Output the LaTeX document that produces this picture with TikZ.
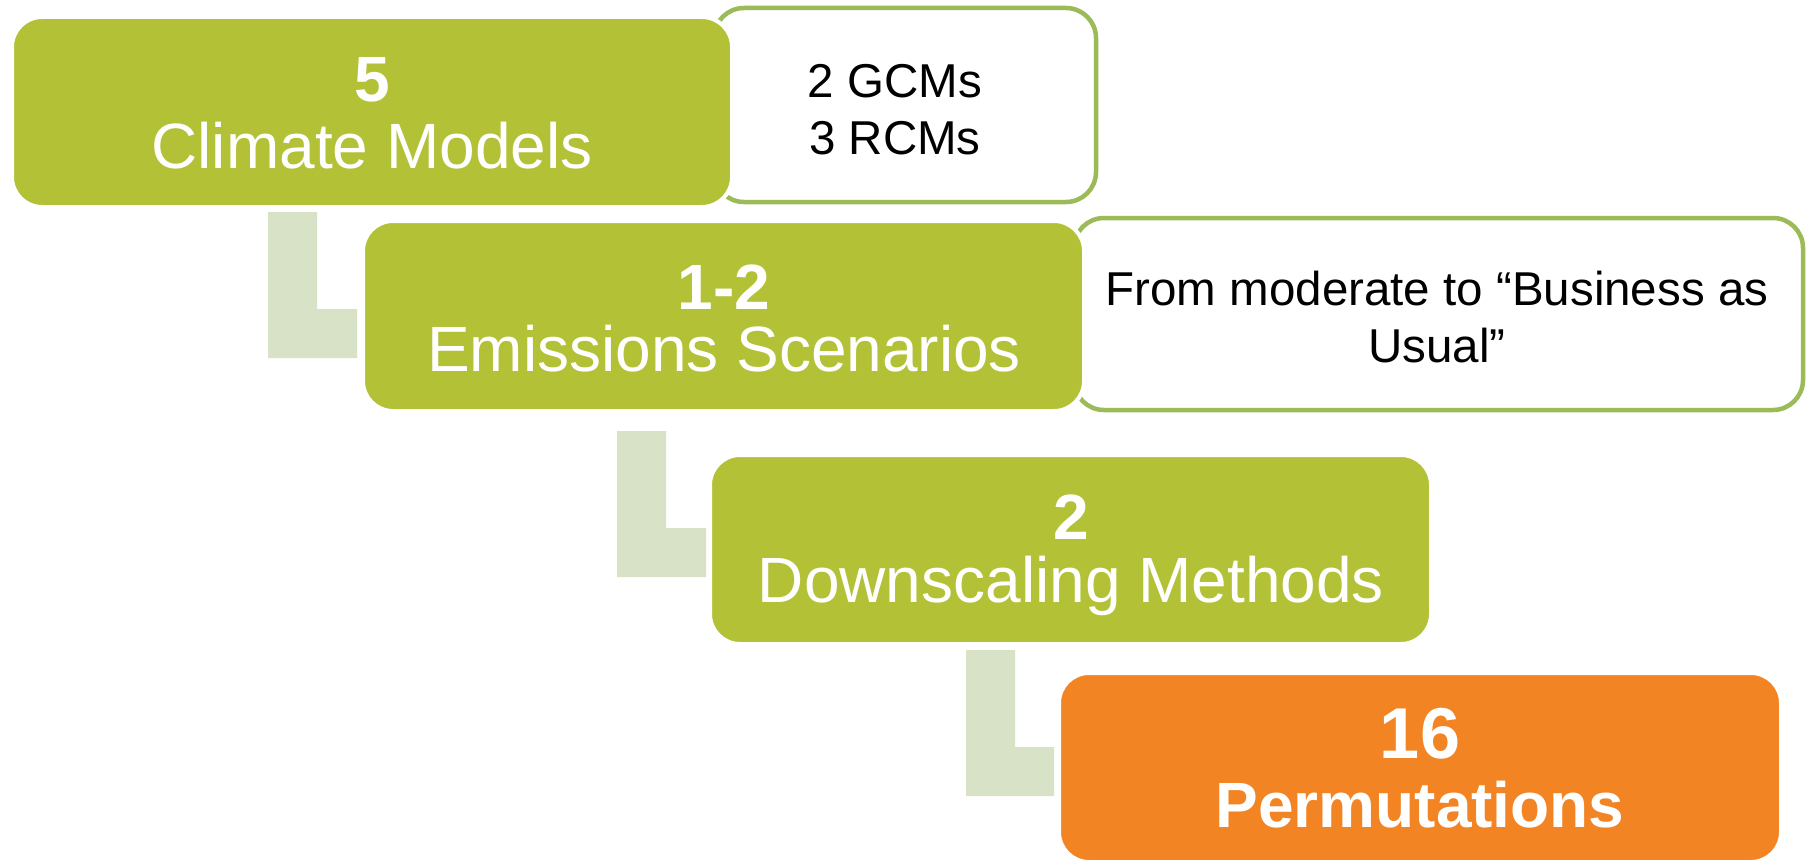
\documentclass[tikz,border=0pt]{standalone}
\usepackage{fontspec}
\setmainfont{Liberation Sans}
\definecolor{leaf}{HTML}{B3C137}
\definecolor{rim}{HTML}{9BBB59}
\definecolor{stem}{HTML}{D7E2C7}
\definecolor{tang}{HTML}{F38424}
\begin{document}
\begin{tikzpicture}[x=1pt,y=-1pt,
  tier/.style={rectangle, rounded corners=30pt, inner sep=0pt, fill=leaf, draw=white, line width=4pt},
  note/.style={rectangle, rounded corners=30pt, inner sep=0pt, fill=white, draw=rim, line width=4.5pt},
  bigtext/.style={anchor=base, text=white, inner sep=0pt, font=\fontsize{64}{70}\selectfont},
  numtext/.style={anchor=base, text=white, inner sep=0pt, font=\bfseries\fontsize{64}{70}\selectfont},
  notetext/.style={anchor=base, text=black, inner sep=0pt, font=\fontsize{47.5}{56}\selectfont},
  stemL/.style={fill=stem, draw=none}]
\useasboundingbox (0,0) rectangle (1806,859);

% L-shaped step connectors between the tiers
\fill[stemL] (268,212) -- (317,212) -- (317,309) -- (357,309) -- (357,358) -- (268,358) -- cycle;
\fill[stemL] (617,431) -- (666,431) -- (666,528) -- (706,528) -- (706,577) -- (617,577) -- cycle;
\fill[stemL] (966,650) -- (1015,650) -- (1015,747) -- (1054,747) -- (1054,796) -- (966,796) -- cycle;

% side notes behind the tiers
\node[note, minimum width=382, minimum height=194] (n1) at (905,105) {};
\node[note, minimum width=729, minimum height=192] (n2) at (1438.5,314) {};

% tiers
\node[tier, minimum width=720, minimum height=190] (t1) at (372,112) {};
\node[tier, minimum width=721, minimum height=190] (t2) at (723.5,316) {};
\node[tier, minimum width=721, minimum height=189] (t3) at (1070.5,549.5) {};
\node[tier, fill=tang, minimum width=722, minimum height=189] (t4) at (1420,767.5) {};

% tier labels
\node[numtext] (t1a) at (372,101) {5};
\node[bigtext] (t1b) at (372,168) {Climate Models};
\node[numtext] (t2a) at (724,309) {1-2};
\node[bigtext] (t2b) at (724,371) {Emissions Scenarios};
\node[numtext] (t3a) at (1071,539) {2};
\node[bigtext] (t3b) at (1071,602) {Downscaling Methods};
\node[numtext, font=\bfseries\fontsize{72}{80}\selectfont] (t4a) at (1420,758) {16};
\node[numtext] (t4b) at (1420,827) {Permutations};

% note labels
\node[notetext] (n1a) at (895,97) {2 GCMs};
\node[notetext] (n1b) at (895,154) {3 RCMs};
\node[notetext] (n2a) at (1437,305) {From moderate to “Business as};
\node[notetext] (n2b) at (1437,362) {Usual”};
\end{tikzpicture}
\end{document}
